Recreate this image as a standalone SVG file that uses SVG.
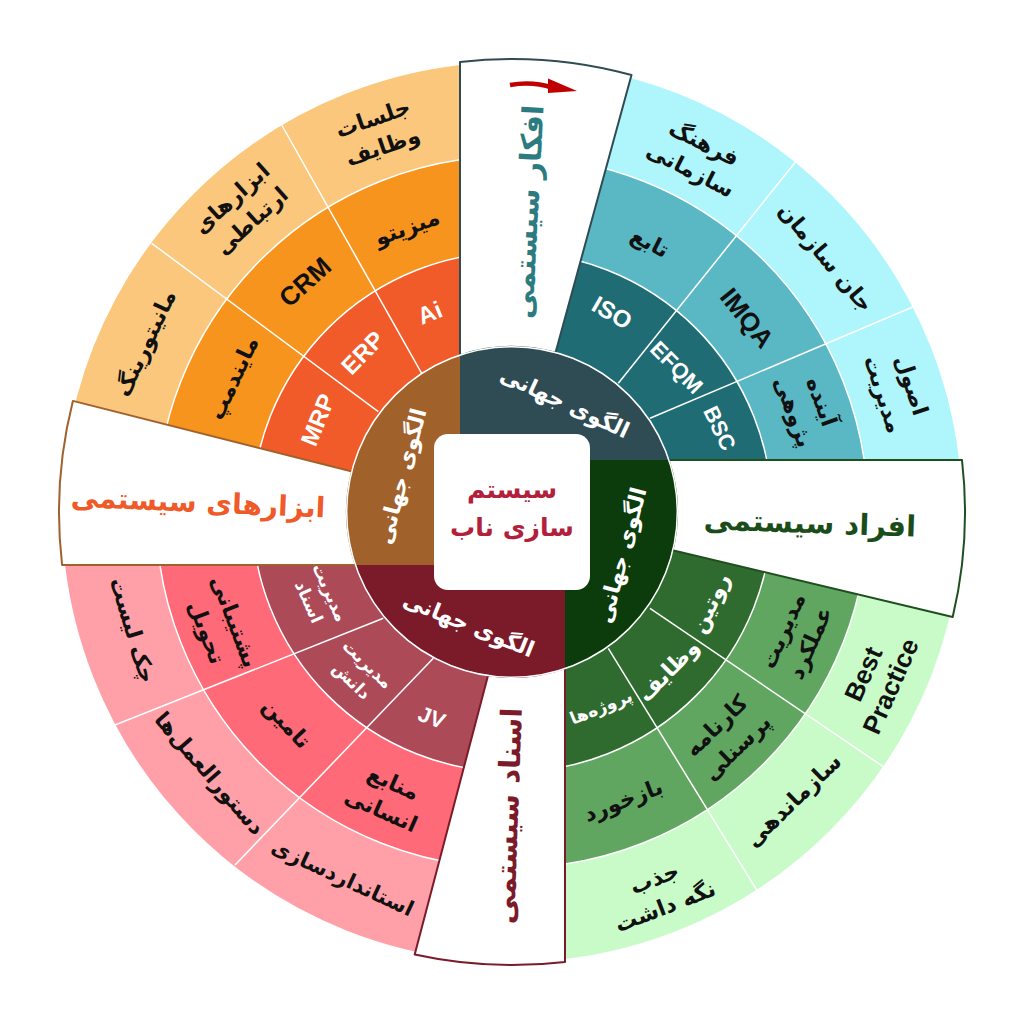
<svg xmlns="http://www.w3.org/2000/svg" width="1024" height="1024" viewBox="0 0 1024 1024">
<defs>
<style>
.t{font-family:"DejaVu Sans",sans-serif;text-anchor:middle;font-size:22px;font-weight:bold;fill:#111}
.lat{font-family:"Liberation Sans",Arial,sans-serif;font-weight:bold}
.wt{fill:#fff}
.sm{font-size:17px}
.big{font-size:29px}
.dv{stroke:#fff;stroke-width:1.5}
.sep{fill:none;stroke:#fff;stroke-width:1.5}
.panel{fill:#fff;stroke-width:2;stroke-linejoin:round}
</style>
<clipPath id="cT"><polygon points="526.2,460 670.3,-66.8 1100,-66.8 1100,460"/></clipPath>
<clipPath id="cG"><polygon points="565,524.6 1100,652 1100,1100 565,1100"/></clipPath>
<clipPath id="cP"><polygon points="517,565 376.5,1100 -100,1100 -100,565"/></clipPath>
<clipPath id="cO"><polygon points="460,498.8 -100,357.1 -100,-100 460,-100"/></clipPath>
<clipPath id="cc"><circle cx="512" cy="512" r="165"/></clipPath>
</defs>
<rect width="1024" height="1024" fill="#fff"/>

<g id="sector-teal" clip-path="url(#cT)">
<circle cx="512" cy="512" r="212.5" fill="none" stroke="#1f6c74" stroke-width="95"/>
<circle cx="512" cy="512" r="308" fill="none" stroke="#5ab8c4" stroke-width="96"/>
<circle cx="512" cy="512" r="403" fill="none" stroke="#aef5fc" stroke-width="94"/>
<circle class="sep" cx="512" cy="512" r="260"/><circle class="sep" cx="512" cy="512" r="356"/>
</g>
<g id="sector-green" clip-path="url(#cG)">
<circle cx="512" cy="512" r="212.5" fill="none" stroke="#2f6b2f" stroke-width="95"/>
<circle cx="512" cy="512" r="308" fill="none" stroke="#60a660" stroke-width="96"/>
<circle cx="512" cy="512" r="403" fill="none" stroke="#c9fbc9" stroke-width="94"/>
<circle class="sep" cx="512" cy="512" r="260"/><circle class="sep" cx="512" cy="512" r="356"/>
</g>
<g id="sector-pink" clip-path="url(#cP)">
<circle cx="512" cy="512" r="212.5" fill="none" stroke="#ad4a58" stroke-width="95"/>
<circle cx="512" cy="512" r="308" fill="none" stroke="#fe6a78" stroke-width="96"/>
<circle cx="512" cy="512" r="403" fill="none" stroke="#ffa0a9" stroke-width="94"/>
<circle class="sep" cx="512" cy="512" r="260"/><circle class="sep" cx="512" cy="512" r="356"/>
</g>
<g id="sector-orange" clip-path="url(#cO)">
<circle cx="512" cy="512" r="212.5" fill="none" stroke="#f15a29" stroke-width="95"/>
<circle cx="512" cy="512" r="308" fill="none" stroke="#f7941e" stroke-width="96"/>
<circle cx="512" cy="512" r="403" fill="none" stroke="#fbc77d" stroke-width="94"/>
<circle class="sep" cx="512" cy="512" r="260"/><circle class="sep" cx="512" cy="512" r="356"/>
</g>

<g id="connectors">
<line class="dv" x1="618.3" y1="383.3" x2="795.2" y2="162.3"/>
<line class="dv" x1="650" y1="418.3" x2="913.3" y2="306.7"/>
<line class="dv" x1="650" y1="608.3" x2="883.3" y2="766.7"/>
<line class="dv" x1="608.3" y1="648.3" x2="756.7" y2="890"/>
<line class="dv" x1="383.3" y1="618.3" x2="115" y2="725"/>
<line class="dv" x1="433.3" y1="658.3" x2="235" y2="865"/>
<line class="dv" x1="421.7" y1="373.3" x2="281.7" y2="125"/>
<line class="dv" x1="378.3" y1="411.7" x2="151.7" y2="243.3"/>
</g>

<g id="panel-top">
<path class="panel" stroke="#2f4b53" d="M460,355.4 L460,62 A453,453 0 0 1 631.5,75 L555.5,352.8 A165,165 0 0 0 460,355.4 Z"/>
<path d="M510,85 Q532,81 552,87.5" fill="none" stroke="#c00000" stroke-width="4.5"/>
<polygon points="548,78.5 577,91 548,93" fill="#c00000"/>
<text class="t big" style="fill:#2b7b80" transform="translate(528,212) rotate(-87)" y="10">افکار سیستمی</text>
</g>
<g id="panel-right">
<path class="panel" stroke="#1f4f1f" d="M668.6,460 L962,460 A453,453 0 0 1 952.7,617 L672.5,550.2 A165,165 0 0 0 668.6,460 Z"/>
<text class="t big" style="fill:#1b4d1b" transform="translate(810,523) rotate(2)" y="10">افراد سیستمی</text>
</g>
<g id="panel-bottom">
<path class="panel" stroke="#7b1b2a" d="M565,668.3 L565,961.9 A453,453 0 0 1 414.7,954.5 L488.1,675.2 A165,165 0 0 0 565,668.3 Z"/>
<text class="t big" style="fill:#7b1b2a" transform="translate(508,816) rotate(-88)" y="10">اسناد سیستمی</text>
</g>
<g id="panel-left">
<path class="panel" stroke="#a1612b" d="M355.7,565 L62.1,565 A453,453 0 0 1 72.9,400.9 L352.05,471.5 A165,165 0 0 0 355.7,565 Z"/>
<text class="t big" style="fill:#f05a28;font-size:28px" transform="translate(198,502) rotate(2.5)" y="10">ابزارهای سیستمی</text>
</g>

<g id="inner" clip-path="url(#cc)">
<rect x="460" y="340" width="220" height="120" fill="#2f4b53"/>
<rect x="565" y="460" width="115" height="220" fill="#0c3c0c"/>
<rect x="340" y="565" width="225" height="115" fill="#7b1b2a"/>
<rect x="340" y="340" width="120" height="225" fill="#a1612b"/>
</g>
<circle class="sep" cx="512" cy="512" r="165.3"/>
<g id="inner-labels">
<text class="t wt" transform="translate(565,402) rotate(25)" y="8">الگوی جهانی</text>
<text class="t wt" transform="translate(621,555) rotate(-75)" y="8">الگوی جهانی</text>
<text class="t wt" transform="translate(469,624) rotate(22)" y="8">الگوی جهانی</text>
<text class="t wt" transform="translate(401,476) rotate(-75)" y="8">الگوی جهانی</text>
</g>

<g id="center">
<rect x="434" y="434" width="156" height="156" rx="14" fill="#fff"/>
<text class="t" style="fill:#b2203b;font-size:25px" x="512" y="498">سیستم</text>
<text class="t" style="fill:#b2203b;font-size:25px" x="512" y="536">سازی ناب</text>
</g>

<g id="teal-cells">
<text class="t lat wt" style="font-size:24px" transform="translate(612,313) rotate(30)" y="8">ISO</text>
<text class="t lat wt" style="font-size:22px" transform="translate(677,367) rotate(45)" y="8">EFQM</text>
<text class="t lat wt" style="font-size:22px" transform="translate(720,428) rotate(64)" y="8">BSC</text>
<text class="t" transform="translate(650,242) rotate(27)" y="8">تابع</text>
<text class="t lat" style="font-size:26px" transform="translate(747,318) rotate(51)" y="9">IMQA</text>
<text class="t" transform="translate(807,407) rotate(70)"><tspan x="0" y="-8">آینده</tspan><tspan x="0" y="22">پژوهی</tspan></text>
<text class="t" transform="translate(697,157) rotate(27)"><tspan x="0" y="-8">فرهنگ</tspan><tspan x="0" y="22">سازمانی</tspan></text>
<text class="t" transform="translate(826,257) rotate(50)" y="8">جان سازمان</text>
<text class="t" transform="translate(897,390) rotate(72)"><tspan x="0" y="-8">اصول</tspan><tspan x="0" y="22">مدیریت</tspan></text>
</g>

<g id="green-cells">
<text class="t wt" transform="translate(710,603) rotate(-65)" y="8">روتین</text>
<text class="t wt" transform="translate(668,670) rotate(-45)" y="8">وظایف</text>
<text class="t wt" style="font-size:17px" transform="translate(601,707) rotate(-22)" y="6">پروژه‌ها</text>
<text class="t" transform="translate(797,637) rotate(-66)"><tspan x="0" y="-8">مدیریت</tspan><tspan x="0" y="22">عملکرد</tspan></text>
<text class="t" transform="translate(727,737) rotate(-44)"><tspan x="0" y="-8">کارنامه</tspan><tspan x="0" y="22">پرسنلی</tspan></text>
<text class="t" transform="translate(623,800) rotate(-21)" y="8">بازخورد</text>
<text class="t lat" style="font-size:26px" transform="translate(877,680) rotate(-66)"><tspan x="0" y="-6">Best</tspan><tspan x="0" y="24">Practice</tspan></text>
<text class="t" transform="translate(793,800) rotate(-44)" y="8">سازماندهی</text>
<text class="t" transform="translate(660,893) rotate(-21)"><tspan x="0" y="-8">جذب</tspan><tspan x="0" y="22">نگه داشت</tspan></text>
</g>

<g id="pink-cells">
<text class="t lat wt" style="font-size:22px" transform="translate(432,717) rotate(21)" y="8">JV</text>
<text class="t wt sm" transform="translate(360,672) rotate(44)"><tspan x="0" y="-5">مدیریت</tspan><tspan x="0" y="18">دانش</tspan></text>
<text class="t wt sm" transform="translate(320,597) rotate(66)"><tspan x="0" y="-5">مدیریت</tspan><tspan x="0" y="18">اسناد</tspan></text>
<text class="t" transform="translate(287,723) rotate(47)" y="8">تامین</text>
<text class="t" transform="translate(387,797) rotate(24)"><tspan x="0" y="-8">منابع</tspan><tspan x="0" y="22">انسانی</tspan></text>
<text class="t" transform="translate(220,627) rotate(69)"><tspan x="0" y="-8">پشتیبانی</tspan><tspan x="0" y="22">تحویل</tspan></text>
<text class="t" transform="translate(133,630) rotate(73)" y="8">چک لیست</text>
<text class="t" transform="translate(210,773) rotate(49)" y="8">دستورالعمل‌ها</text>
<text class="t" style="font-size:21px" transform="translate(343,877) rotate(25)" y="8">استانداردسازی</text>
</g>

<g id="orange-cells">
<text class="t lat wt" style="font-size:24px" transform="translate(430,313) rotate(-22)" y="8">Ai</text>
<text class="t lat wt" style="font-size:24px" transform="translate(363,353) rotate(-46)" y="8">ERP</text>
<text class="t lat wt" style="font-size:24px" transform="translate(318,420) rotate(-68)" y="8">MRP</text>
<text class="t" transform="translate(407,227) rotate(-20)" y="8">میزیتو</text>
<text class="t lat" style="font-size:26px" transform="translate(305,282) rotate(-42)" y="9">CRM</text>
<text class="t" transform="translate(233,378) rotate(-65)" y="8">مایندمپ</text>
<text class="t" transform="translate(378,133) rotate(-19)"><tspan x="0" y="-8">جلسات</tspan><tspan x="0" y="22">وظایف</tspan></text>
<text class="t" transform="translate(242,210) rotate(-42)"><tspan x="0" y="-8">ابزارهای</tspan><tspan x="0" y="22">ارتباطی</tspan></text>
<text class="t" transform="translate(145,343) rotate(-65)" y="8">مانیتورینگ</text>
</g>
</svg>
